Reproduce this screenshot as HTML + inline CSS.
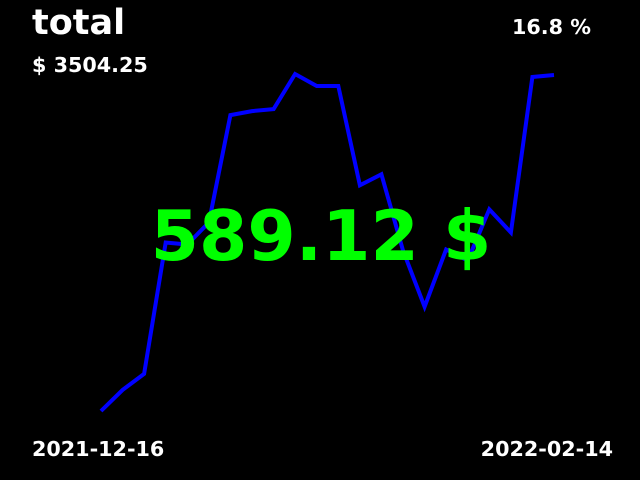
<!DOCTYPE html>
<html><head><meta charset="utf-8"><style>
html,body{margin:0;padding:0;background:#000;}
svg{display:block}
text{font-family:"DejaVu Sans","Liberation Sans",sans-serif;font-weight:bold;}
</style></head><body>
<svg id="c" width="640" height="480">
<rect width="640" height="480" fill="#000"/>
<polyline id="line" fill="none" stroke="#0000ff" stroke-width="4" stroke-linejoin="miter"/>
<text x="32" y="34" fill="#fff" font-size="35">total</text>
<text x="32" y="72" fill="#fff" font-size="20.7">$ 3504.25</text>
<text x="512" y="34" fill="#fff" font-size="20.7">16.8 %</text>
<text x="321" y="260" fill="#00ff00" font-size="69.5" text-anchor="middle">589.12 $</text>
<text x="32" y="456" fill="#fff" font-size="20.7">2021-12-16</text>
<text x="613" y="456" fill="#fff" font-size="20.7" text-anchor="end">2022-02-14</text>
</svg>
<script>
const values = [10, 31, 47, 178, 176, 198, 305, 309, 311, 346, 334, 334, 235, 246, 170, 114, 171, 160, 211, 188, 343, 345];
const xStart = 101, xEnd = 554, yBottom = 411, yTop = 74;
const vmin = Math.min(...values), vmax = Math.max(...values);
function xs(i){ return xStart + (xEnd - xStart) * i / (values.length - 1); }
function ys(v){ return yBottom - (v - vmin) / (vmax - vmin) * (yBottom - yTop); }
document.getElementById('line').setAttribute('points', values.map((v,i)=>xs(i).toFixed(1)+','+ys(v).toFixed(1)).join(' '));
</script>
</body></html>
